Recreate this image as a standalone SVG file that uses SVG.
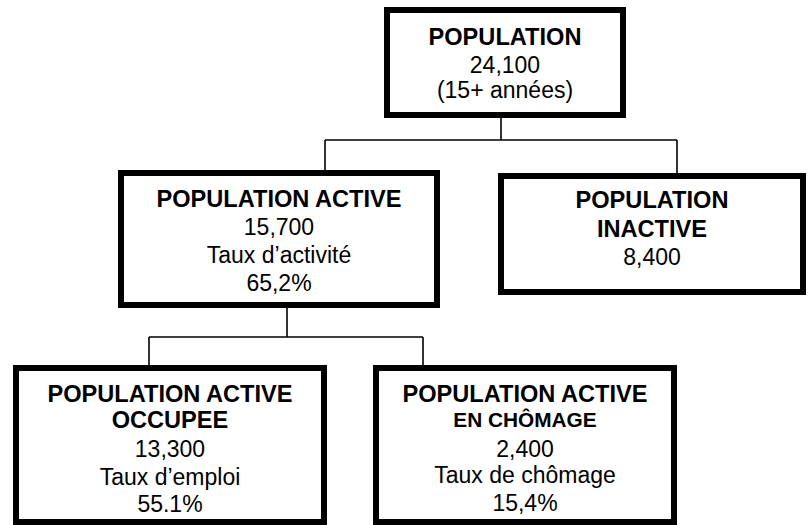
<svg xmlns="http://www.w3.org/2000/svg" width="810" height="525" viewBox="0 0 810 525">
<style>
.box{fill:#fff;stroke:#000;stroke-width:6}
.con{fill:none;stroke:#000;stroke-width:1.6}
text{font-family:"Liberation Sans",Arial,sans-serif;font-size:23px;fill:#000;text-anchor:middle}
.b{font-weight:bold;font-size:23.6px}
.s{font-size:20.8px}
</style>
<rect x="0" y="0" width="810" height="525" fill="#fff"/>
<g id="connectors">
<path class="con" d="M501 118V140M325 140H677M325 140V170M677 140V173"/>
<path class="con" d="M287 308V337M149 337H423M149 337V365M423 337V365"/>
</g>
<g id="population">
<rect class="box" x="387" y="10" width="236" height="105"/>
<text x="505" y="45" class="b">POPULATION</text>
<text x="505" y="73">24,100</text>
<text x="505" y="98">(15+ années)</text>
</g>
<g id="active">
<rect class="box" x="121" y="173" width="316" height="132"/>
<text x="279" y="207" class="b">POPULATION ACTIVE</text>
<text x="279" y="235">15,700</text>
<text x="279" y="263">Taux d’activité</text>
<text x="279" y="291">65,2%</text>
</g>
<g id="inactive">
<rect class="box" x="501" y="176" width="302" height="116"/>
<text x="652" y="208" class="b">POPULATION</text>
<text x="652" y="237" class="b">INACTIVE</text>
<text x="652" y="265">8,400</text>
</g>
<g id="occupee">
<rect class="box" x="16" y="368" width="308" height="154"/>
<text x="170" y="402" class="b">POPULATION ACTIVE</text>
<text x="170" y="428" class="b">OCCUPEE</text>
<text x="170" y="457">13,300</text>
<text x="170" y="485">Taux d’emploi</text>
<text x="170" y="512">55.1%</text>
</g>
<g id="chomage">
<rect class="box" x="376" y="368" width="298" height="154"/>
<text x="525" y="402" class="b">POPULATION ACTIVE</text>
<text x="525" y="427" class="b s">EN CHÔMAGE</text>
<text x="525" y="457">2,400</text>
<text x="525" y="483">Taux de chômage</text>
<text x="525" y="511">15,4%</text>
</g>
</svg>
